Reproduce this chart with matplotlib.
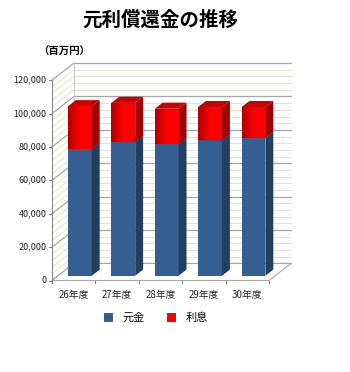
import numpy as np
import matplotlib
matplotlib.use("Agg")
import matplotlib.pyplot as plt
from matplotlib.patches import Polygon, Patch
from matplotlib.colors import LinearSegmentedColormap

plt.rcParams['font.family'] = ['Noto Sans CJK JP', 'DejaVu Sans']

# data (百万円)
years = ['26年度', '27年度', '28年度', '29年度', '30年度']
principal = [76000, 80000, 79000, 81000, 82500]
interest = [25500, 23500, 21000, 20000, 18500]
series_names = ['元金', '利息']
yticks = [0, 20000, 40000, 60000, 80000, 100000, 120000]

# 3d-look geometry (oblique projection)
DX, DY = 0.507, 10180        # depth of the plot box
F0, F1 = 0.28, 0.64          # depth range taken by the bars
BW = 0.55

fig = plt.figure(figsize=(3.5, 3.72), dpi=100)
ax = fig.add_axes([0, 0, 1, 1])
px_x = 43.4
px_v = 33.4 / 20000
ax.axis('off')

n = len(years)
top = yticks[-1]

# walls: minor stripes, major grid
for v in np.arange(0, top + 1, 4000):
    major = v % 20000 == 0
    c = '#a6a6a6' if major else '#e4e2d0'
    lw = 0.9 if major else 0.7
    ax.plot([DX, n + DX], [v + DY, v + DY], color=c, lw=lw, zorder=1)
    ax.plot([0, DX], [v, v + DY], color=c, lw=lw, zorder=1)
ax.plot([DX, DX], [DY, top + DY], color='#c8c8c8', lw=0.7, zorder=1)

# floor
floor = Polygon([(0, 0), (n, 0), (n + DX, DY), (DX, DY)], closed=True,
                facecolor='white', edgecolor='#a6a6a6', lw=0.8, zorder=2)
ax.add_patch(floor)

# axis line and ticks
ax.plot([0, 0], [0, top], color='#868686', lw=0.8, zorder=3)
for v in yticks:
    ax.plot([-0.07, 0], [v, v], color='#868686', lw=0.8, zorder=3)
    ax.text(-0.12, v, f'{v:,}', ha='right', va='center', fontsize=6.5, color='#222222')
for i in range(n + 1):
    ax.plot([i, i], [0, -1500], color='#868686', lw=0.8, zorder=3)
for i, lab in enumerate(years):
    ax.text(i + 0.5, -8800, lab, ha='center', va='center', fontsize=7, color='#222222')

# bars
grad = LinearSegmentedColormap.from_list('g', ['#b00000', '#ff0000', '#ff0000'])
x = np.arange(n) + 0.5 + F0 * DX
d = F1 - F0
bottoms = np.zeros(n)
for vals, front, side, topc in [(principal, '#365f91', '#233f60', '#2c4f7a'),
                                (interest, '#ff0000', '#a00000', '#cc0000')]:
    vals = np.array(vals)
    bars = ax.bar(x, vals, width=BW, bottom=bottoms + F0 * DY, color=front, zorder=5)
    for bar in bars:
        xl = bar.get_x()
        xr = xl + BW
        lo = bar.get_y()
        hi = lo + bar.get_height()
        ax.add_patch(Polygon([(xr, lo), (xr + d * DX, lo + d * DY),
                              (xr + d * DX, hi + d * DY), (xr, hi)],
                             closed=True, facecolor=side, edgecolor='none', zorder=5))
        ax.add_patch(Polygon([(xl, hi), (xr, hi), (xr + d * DX, hi + d * DY),
                              (xl + d * DX, hi + d * DY)],
                             closed=True, facecolor=topc, edgecolor='none', zorder=5))
        if front == '#ff0000':
            im = ax.imshow(np.linspace(0, 1, 50).reshape(1, -1), cmap=grad, aspect='auto',
                           extent=[xl, xr, lo, hi], zorder=6)
            im.set_clip_path(bar)
    bottoms = bottoms + vals

ax.set_xlim(-52 / px_x, (350 - 52) / px_x)
ax.set_ylim(-(372 - 280.5) / px_v, 280.5 / px_v)

fig.text(160 / 350, 1 - 20 / 372, '元利償還金の推移', ha='center', va='center',
         fontsize=14, fontweight='bold')
fig.text(38 / 350, 1 - 52 / 372, '（百万円）', ha='left', va='center',
         fontsize=7.5, fontweight='bold')

handles = [Patch(facecolor='#365f91'), Patch(facecolor='#ff0000')]
fig.legend(handles, series_names, loc='center', bbox_to_anchor=(156 / 350, 1 - 318 / 372),
           ncol=2, frameon=False, fontsize=8, handlelength=0.8, handleheight=0.8,
           columnspacing=2.0, handletextpad=0.9)

fig.savefig('out.png', dpi=100)
